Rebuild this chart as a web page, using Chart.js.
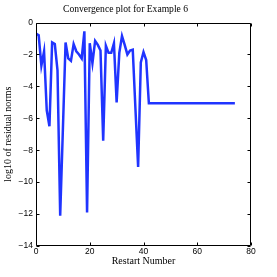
<!DOCTYPE html>
<html>
<head>
<meta charset="utf-8">
<script src="https://cdn.jsdelivr.net/npm/chart.js@4/dist/chart.umd.min.js"></script>
<style>
  html, body { margin: 0; padding: 0; background: #fff; }
  #wrap { width: 277px; height: 277px; position: relative; }
</style>
</head>
<body>
<div id="wrap"><canvas id="c" width="277" height="277"></canvas></div>
<script>
// Chart text
const chartTitle = 'Convergence plot for Example 6';
const xTitle = 'Restart Number';
const yTitle = 'log10 of residual norms';

// Tick values
const xTicks = [0, 20, 40, 60, 80];
const yTicks = [0, -2, -4, -6, -8, -10, -12, -14];

// log10 of residual norm for restart numbers 0..74
const residualLog = [
  -0.7, -0.8, -2.7, -1.8, -5.5, -6.5, -1.25, -1.35, -3.0, -12.1,
  -6.7, -1.25, -2.25, -2.4, -1.35, -1.8, -2.0, -2.25, -0.55, -11.9,
  -1.3, -2.55, -1.15, -1.4, -1.75, -7.4, -1.45, -1.9, -1.9, -1.3,
  -5.0, -1.9, -0.85, -1.4, -2.0, -1.75, -1.7, -5.4, -9.05, -2.5,
  -1.85, -2.35, -5.06, -5.06, -5.06, -5.06, -5.06, -5.06, -5.06, -5.06,
  -5.06, -5.06, -5.06, -5.06, -5.06, -5.06, -5.06, -5.06, -5.06, -5.06,
  -5.06, -5.06, -5.06, -5.06, -5.06, -5.06, -5.06, -5.06, -5.06, -5.06,
  -5.06, -5.06, -5.06, -5.06, -5.06
];

const points = residualLog.map((v, i) => ({ x: i, y: v }));

const minus = s => String(s).replace('-', '\u2212');

const frameTicks = {
  id: 'frameTicks',
  afterDraw(chart) {
    const { ctx, chartArea: a, scales } = chart;
    const L = Math.round(a.left) + 0.5, R = Math.round(a.right) - 0.5;
    const T = Math.round(a.top) + 0.5, B = Math.round(a.bottom) - 0.5;
    const len = 3;
    ctx.save();
    ctx.strokeStyle = '#000';
    ctx.lineWidth = 1;
    ctx.beginPath();
    ctx.rect(L, T, R - L, B - T);
    scales.x.ticks.forEach(t => {
      const px = Math.round(scales.x.getPixelForValue(t.value)) + 0.5;
      ctx.moveTo(px, B); ctx.lineTo(px, B - len);
      ctx.moveTo(px, T); ctx.lineTo(px, T + len);
    });
    scales.y.ticks.forEach(t => {
      const py = Math.round(scales.y.getPixelForValue(t.value)) + 0.5;
      ctx.moveTo(L, py); ctx.lineTo(L + len, py);
      ctx.moveTo(R, py); ctx.lineTo(R - len, py);
    });
    ctx.stroke();
    ctx.restore();
  }
};

new Chart(document.getElementById('c'), {
  type: 'line',
  data: {
    datasets: [{
      data: points,
      borderColor: 'rgb(32,52,255)',
      borderWidth: 2.5,
      pointRadius: 0,
      tension: 0,
      fill: false
    }]
  },
  options: {
    responsive: false,
    animation: false,
    devicePixelRatio: 1,
    layout: { padding: { left: 0, right: 26, top: 0, bottom: 0 } },
    plugins: {
      legend: { display: false },
      tooltip: { enabled: false },
      title: {
        display: true,
        text: chartTitle,
        color: '#000',
        font: { family: 'Liberation Serif', size: 9.6, weight: 'normal' },
        padding: { top: 4, bottom: 7 }
      }
    },
    scales: {
      x: {
        type: 'linear',
        min: 0, max: 80,
        afterBuildTicks: s => { s.ticks = xTicks.map(v => ({ value: v })); },
        afterFit: s => { s.height = 31; },
        grid: { display: false, drawTicks: false },
        border: { display: false },
        ticks: {
          color: '#000', padding: 1, maxRotation: 0,
          font: { family: 'Liberation Sans', size: 8.5 },
          callback: v => minus(v)
        },
        title: {
          display: true, text: xTitle, color: '#000',
          font: { family: 'Liberation Serif', size: 10 },
          padding: { top: 0, bottom: 10 }
        }
      },
      y: {
        type: 'linear',
        min: -14, max: 0,
        afterBuildTicks: s => { s.ticks = yTicks.map(v => ({ value: v })); },
        afterFit: s => { s.width = 36; },
        grid: { display: false, drawTicks: false },
        border: { display: false },
        ticks: {
          color: '#000', padding: 3,
          font: { family: 'Liberation Sans', size: 8.5 },
          callback: v => minus(v)
        },
        title: {
          display: true, text: yTitle, color: '#000',
          font: { family: 'Liberation Serif', size: 10 },
          padding: { top: 2, bottom: 0 }
        }
      }
    }
  },
  plugins: [frameTicks]
});
</script>
</body>
</html>
